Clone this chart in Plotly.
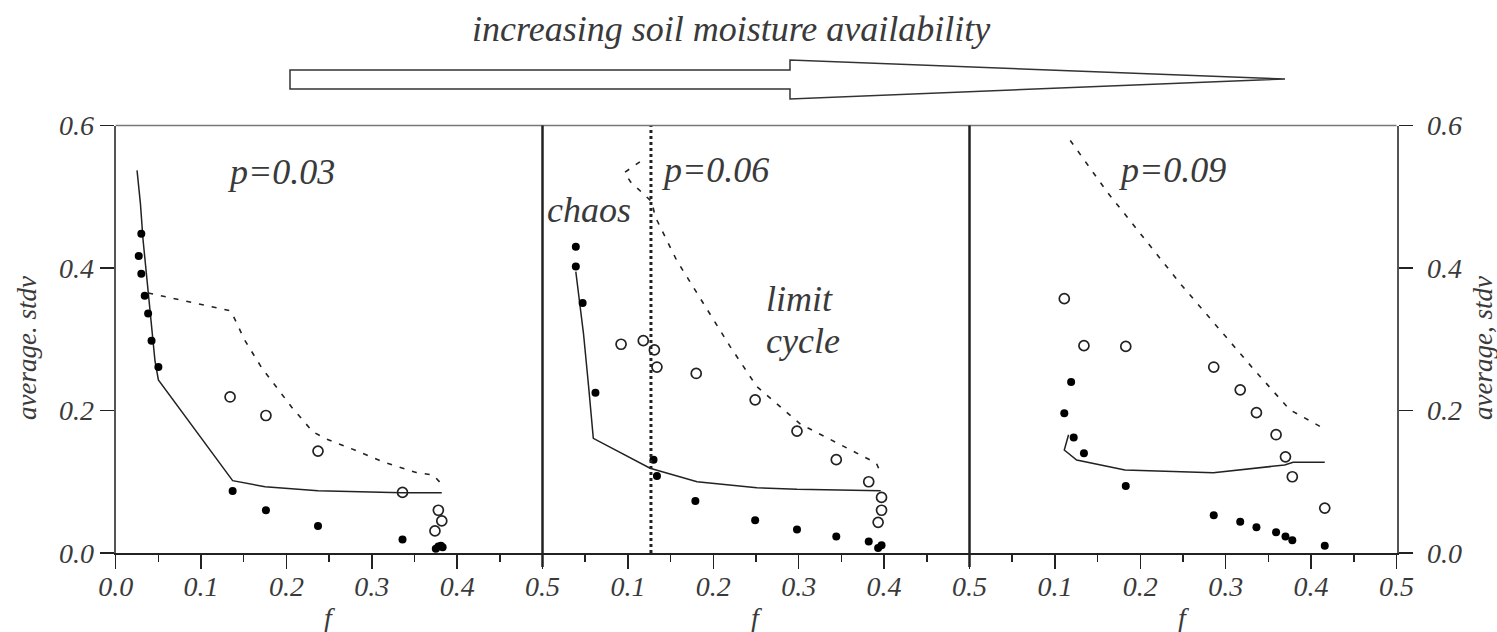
import plotly.graph_objects as go

# ---------------- data ----------------
f_ticks = [0.0, 0.1, 0.2, 0.3, 0.4, 0.5]
f_labels_first = ["0.0", "0.1", "0.2", "0.3", "0.4", "0.5"]
f_labels_other = ["", "0.1", "0.2", "0.3", "0.4", "0.5"]
y_ticks = [0.0, 0.2, 0.4, 0.6]
y_labels = ["0.0", "0.2", "0.4", "0.6"]
panel_labels = ["p=0.03", "p=0.06", "p=0.09"]

# panel 1 (p = 0.03)
p1_line_f = [0.025, 0.029, 0.032, 0.036, 0.040, 0.043, 0.046, 0.050, 0.137, 0.175, 0.237, 0.335, 0.382]
p1_line_v = [0.537, 0.49, 0.44, 0.39, 0.34, 0.30, 0.27, 0.243, 0.1015, 0.093, 0.0875, 0.0847, 0.0847]
p1_dash_f = [0.038, 0.134, 0.138, 0.151, 0.171, 0.206, 0.231, 0.247, 0.280, 0.313, 0.352, 0.372, 0.380]
p1_dash_v = [0.365, 0.340, 0.332, 0.299, 0.260, 0.205, 0.170, 0.160, 0.1445, 0.128, 0.113, 0.1095, 0.099]
p1_filled_f = [0.030, 0.027, 0.030, 0.034, 0.038, 0.042, 0.050, 0.137, 0.176, 0.237, 0.336, 0.375, 0.378, 0.381, 0.383]
p1_filled_v = [0.448, 0.417, 0.392, 0.361, 0.336, 0.298, 0.261, 0.087, 0.060, 0.038, 0.019, 0.006, 0.009, 0.010, 0.008]
p1_open_f = [0.134, 0.176, 0.237, 0.336, 0.378, 0.382, 0.374]
p1_open_v = [0.219, 0.193, 0.143, 0.085, 0.060, 0.045, 0.031]

# panel 2 (p = 0.06)
p2_line_f = [0.039, 0.048, 0.054, 0.0595, 0.126, 0.181, 0.251, 0.298, 0.396]
p2_line_v = [0.395, 0.308, 0.2335, 0.161, 0.119, 0.100, 0.0917, 0.0893, 0.0875]
p2_dash_f = [0.114, 0.096, 0.103, 0.128, 0.132, 0.157, 0.2196, 0.251, 0.302, 0.391, 0.396]
p2_dash_v = [0.549, 0.534, 0.521, 0.493, 0.472, 0.411, 0.290, 0.2335, 0.181, 0.126, 0.112]
p2_filled_f = [0.039, 0.039, 0.047, 0.062, 0.130, 0.134, 0.179, 0.249, 0.298, 0.344, 0.382, 0.393, 0.397]
p2_filled_v = [0.430, 0.402, 0.351, 0.225, 0.131, 0.108, 0.073, 0.046, 0.033, 0.023, 0.016, 0.007, 0.011]
p2_open_f = [0.092, 0.118, 0.131, 0.134, 0.180, 0.249, 0.298, 0.344, 0.382, 0.397, 0.397, 0.393]
p2_open_v = [0.293, 0.298, 0.285, 0.261, 0.252, 0.215, 0.171, 0.131, 0.100, 0.078, 0.060, 0.043]
p2_boundary_f = 0.127

# panel 3 (p = 0.09)
p3_line_f = [0.116, 0.111, 0.1255, 0.182, 0.2855, 0.369, 0.379, 0.416]
p3_line_v = [0.166, 0.1445, 0.1305, 0.1165, 0.1127, 0.1235, 0.1273, 0.1273]
p3_dash_f = [0.118, 0.161, 0.2465, 0.332, 0.375, 0.416]
p3_dash_v = [0.579, 0.507, 0.3785, 0.259, 0.201, 0.174]
p3_filled_f = [0.119, 0.111, 0.122, 0.134, 0.183, 0.286, 0.317, 0.336, 0.359, 0.370, 0.378, 0.416]
p3_filled_v = [0.240, 0.196, 0.162, 0.140, 0.094, 0.053, 0.044, 0.036, 0.029, 0.023, 0.018, 0.010]
p3_open_f = [0.111, 0.134, 0.183, 0.286, 0.317, 0.336, 0.359, 0.370, 0.378, 0.416]
p3_open_v = [0.357, 0.291, 0.290, 0.261, 0.229, 0.197, 0.166, 0.135, 0.107, 0.063]

# ---------------- layout constants ----------------
W, H = 1497, 632
LEFT, SEP1, SEP2, RIGHT = 115.7, 542.5, 969.5, 1396.5
TOP, BOTTOM = 125.5, 553.0
FONT = "Liberation Serif"
TXT = "#3a3a3a"
LINE = "#222222"

def px(x):
    return x / W

def py(y):
    return 1 - y / H

ydom = [py(BOTTOM), py(TOP)]
xdoms = [[px(LEFT), px(SEP1)], [px(SEP1), px(SEP2)], [px(SEP2), px(RIGHT)]]

fig = go.Figure()

panels = [
    (p1_line_f, p1_line_v, p1_dash_f, p1_dash_v, p1_filled_f, p1_filled_v, p1_open_f, p1_open_v),
    (p2_line_f, p2_line_v, p2_dash_f, p2_dash_v, p2_filled_f, p2_filled_v, p2_open_f, p2_open_v),
    (p3_line_f, p3_line_v, p3_dash_f, p3_dash_v, p3_filled_f, p3_filled_v, p3_open_f, p3_open_v),
]

for i, (lf, lv, df, dv, ff, fv, of, ov) in enumerate(panels):
    xa = "x" if i == 0 else f"x{i+1}"
    ya = "y" if i == 0 else f"y{i+1}"
    fig.add_trace(go.Scatter(x=df, y=dv, mode="lines", xaxis=xa, yaxis=ya,
                             line=dict(color=LINE, width=1.6, dash="5px,8px"), hoverinfo="skip"))
    fig.add_trace(go.Scatter(x=lf, y=lv, mode="lines", xaxis=xa, yaxis=ya,
                             line=dict(color=LINE, width=1.5), hoverinfo="skip"))
    fig.add_trace(go.Scatter(x=of, y=ov, mode="markers", xaxis=xa, yaxis=ya,
                             marker=dict(symbol="circle-open", size=10, color=LINE,
                                         line=dict(width=1.7, color=LINE)), cliponaxis=False))
    fig.add_trace(go.Scatter(x=ff, y=fv, mode="markers", xaxis=xa, yaxis=ya,
                             marker=dict(symbol="circle", size=8, color="black"), cliponaxis=False))

# chaos / limit-cycle boundary in panel 2
fig.add_trace(go.Scatter(x=[p2_boundary_f, p2_boundary_f], y=[0, 0.6], mode="lines",
                         xaxis="x2", yaxis="y2",
                         line=dict(color=LINE, width=3, dash="dot"), hoverinfo="skip"))

tickfont = dict(family=FONT, size=28, color=TXT, style="italic")

layout = dict(
    width=W, height=H, margin=dict(l=0, r=0, t=0, b=0, autoexpand=False),
    paper_bgcolor="white", plot_bgcolor="white", showlegend=False,
)

for i in range(3):
    key = "xaxis" if i == 0 else f"xaxis{i+1}"
    ykey = "y" if i == 0 else f"y{i+1}"
    layout[key] = dict(
        domain=xdoms[i], range=[0, 0.5], anchor=ykey, automargin=False,
        tickmode="array", tickvals=f_ticks,
        ticktext=f_labels_first if i == 0 else f_labels_other,
        ticks="outside", ticklen=14, tickwidth=1.5, tickcolor=LINE,
        minor=dict(tickvals=[0.05, 0.15, 0.25, 0.35, 0.45], ticks="outside",
                   ticklen=7, tickwidth=1.5, tickcolor=LINE),
        showline=True, linewidth=2, linecolor=LINE,
        showgrid=False, zeroline=False, tickfont=tickfont, ticklabelstandoff=-7,
        fixedrange=True,
    )

layout["yaxis"] = dict(
    domain=ydom, range=[0, 0.6], anchor="x", automargin=False,
    tickmode="array", tickvals=y_ticks, ticktext=y_labels,
    ticks="outside", ticklen=14, tickwidth=1.5, tickcolor=LINE,
    showline=True, linewidth=2, linecolor="#555555",
    showgrid=False, zeroline=False, tickfont=tickfont, ticklabelstandoff=0,
    fixedrange=True,
)
layout["yaxis2"] = dict(domain=ydom, range=[0, 0.6], anchor="x2", visible=False,
                        automargin=False, fixedrange=True)
layout["yaxis3"] = dict(
    domain=ydom, range=[0, 0.6], anchor="x3", side="right", automargin=False,
    tickmode="array", tickvals=y_ticks, ticktext=y_labels,
    ticks="outside", ticklen=14, tickwidth=1.5, tickcolor=LINE,
    showline=True, linewidth=2, linecolor="#555555",
    showgrid=False, zeroline=False, tickfont=tickfont, ticklabelstandoff=9,
    fixedrange=True,
)

fig.update_layout(**layout)

# frame: top border and panel separators
shapes = [
    dict(type="line", xref="paper", yref="paper", x0=px(LEFT), x1=px(RIGHT),
         y0=py(TOP), y1=py(TOP), line=dict(color="#777777", width=1.5)),
    dict(type="line", xref="paper", yref="paper", x0=px(SEP1), x1=px(SEP1),
         y0=py(TOP), y1=py(BOTTOM + 14), line=dict(color=LINE, width=2.5)),
    dict(type="line", xref="paper", yref="paper", x0=px(SEP2), x1=px(SEP2),
         y0=py(TOP), y1=py(BOTTOM + 14), line=dict(color=LINE, width=2.5)),
]
# big hollow arrow
ax0, ax1, axt = 290, 790, 1285
arrow_path = (f"M {px(ax0)} {py(70)} L {px(ax1)} {py(70)} L {px(ax1)} {py(60)} "
              f"L {px(axt)} {py(79)} L {px(ax1)} {py(99)} L {px(ax1)} {py(89)} "
              f"L {px(ax0)} {py(89)} Z")
shapes.append(dict(type="path", xref="paper", yref="paper", path=arrow_path,
                   line=dict(color="#333333", width=1.5), fillcolor="white"))
fig.update_layout(shapes=shapes)

big = dict(family=FONT, size=36, color=TXT, style="italic")
mid = dict(xanchor="center", yanchor="middle", showarrow=False)
annots = [
    dict(text="increasing soil moisture availability", xref="paper", yref="paper",
         x=px(731), y=py(29), font=big, **mid),
    dict(text=panel_labels[0], xref="x", yref="y", x=0.194, y=0.535, font=big, **mid),
    dict(text=panel_labels[1], xref="x2", yref="y2", x=0.202, y=0.537, font=big, **mid),
    dict(text=panel_labels[2], xref="x3", yref="y3", x=0.237, y=0.537, font=big, **mid),
    dict(text="chaos", xref="x2", yref="y2", x=0.0545, y=0.482, font=big, **mid),
    dict(text="limit", xref="x2", yref="y2", x=0.3015, y=0.356, font=big, **mid),
    dict(text="cycle", xref="x2", yref="y2", x=0.305, y=0.297, font=big, **mid),
    dict(text="average. stdv", xref="paper", yref="paper", x=px(27), y=py(348),
         textangle=-90, font=dict(family=FONT, size=27, color=TXT, style="italic"), **mid),
    dict(text="average, stdv", xref="paper", yref="paper", x=px(1483), y=py(348),
         textangle=-90, font=dict(family=FONT, size=27, color=TXT, style="italic"), **mid),
]
for xa in ["x", "x2", "x3"]:
    annots.append(dict(text="f", xref=xa, yref="paper", x=0.25, y=py(617),
                       font=dict(family=FONT, size=28, color=TXT, style="italic"), **mid))
fig.update_layout(annotations=annots)

fig.write_html("out.html", config={"displayModeBar": False, "staticPlot": True},
               post_script="document.body.style.margin='0px';document.body.style.overflow='hidden';")
